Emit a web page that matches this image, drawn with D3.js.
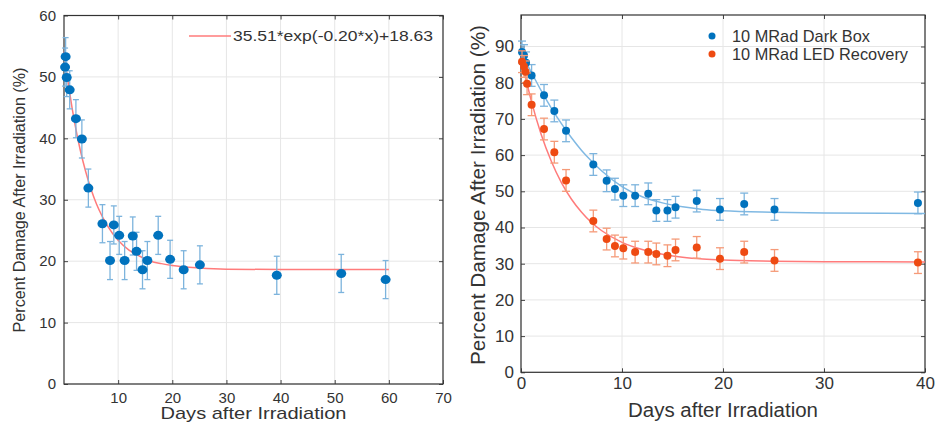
<!DOCTYPE html>
<html>
<head>
<meta charset="utf-8">
<script src="https://d3js.org/d3.v7.min.js"></script>
<style>
  body { margin: 0; background: #fff; }
  svg text { font-family: "Liberation Sans", Arial, Helvetica, sans-serif; fill: #333; }
</style>
</head>
<body>
<svg width="935" height="425"></svg>
<script>
// left panel: single sample, days vs percent damage
var leftDays = [0.3, 0.2, 0.5, 1.05, 2.2, 3.3, 4.5, 7.1, 8.5, 9.2, 10.2, 11.2, 12.7, 13.4, 14.5, 15.4, 17.4, 19.6, 22.1, 25.1, 39.3, 51.2, 59.4];
var leftDamage = [53.3, 51.6, 49.9, 47.9, 43.2, 39.9, 31.9, 26.1, 20.1, 25.9, 24.2, 20.1, 24.1, 21.6, 18.6, 20.1, 24.2, 20.3, 18.6, 19.4, 17.7, 18.0, 17.0];
var leftErr = 3.1;
// fitted curve
var leftFitX = [0, 1, 2, 3, 4, 5, 6, 7, 8, 10, 12, 14, 16, 18, 20, 25, 30, 40, 60];
var leftFitY = [54.1, 47.7, 42.4, 38.1, 34.6, 31.7, 29.3, 27.4, 25.8, 23.4, 21.8, 20.8, 20.0, 19.6, 19.3, 18.9, 18.7, 18.63, 18.63];
var leftLegend = "35.51*exp(-0.20*x)+18.63";

// right panel: dark box vs LED recovery
var darkDays = [0.1, 0.3, 0.5, 1.05, 2.28, 3.3, 4.46, 7.16, 8.48, 9.3, 10.13, 11.3, 12.6, 13.4, 14.5, 15.3, 17.4, 19.7, 22.1, 25.1, 39.3];
var darkDamage = [88.5, 87.5, 85.5, 82.0, 76.5, 72.2, 66.7, 57.4, 52.9, 50.6, 48.8, 48.8, 49.3, 44.7, 44.7, 45.6, 47.3, 45.0, 46.5, 45.0, 46.8];
var ledDays = [0.1, 0.3, 0.45, 0.6, 1.05, 2.28, 3.3, 4.46, 7.16, 8.48, 9.3, 10.13, 11.3, 12.6, 13.4, 14.5, 15.3, 17.4, 19.7, 22.1, 25.1, 39.3];
var ledDamage = [85.8, 84.5, 83.0, 79.7, 73.9, 67.2, 60.8, 53.0, 41.8, 36.8, 34.9, 34.3, 33.2, 33.2, 32.7, 32.2, 33.8, 34.5, 31.4, 33.2, 30.9, 30.3];
var rightErr = 3.0;
var darkFitX = [0, 1, 2, 3, 4, 5, 6, 7, 8, 10, 12, 14, 16, 18, 20, 25, 30, 40];
var darkFitY = [88, 83, 77.8, 73, 68.7, 64.8, 61.3, 58.3, 55.6, 51.3, 48.5, 46.8, 45.7, 45.0, 44.6, 44.2, 44.0, 43.9];
var ledFitX = [0, 1, 2, 3, 4, 5, 6, 7, 8, 10, 12, 14, 16, 18, 20, 25, 30, 40];
var ledFitY = [87, 75.2, 65.7, 58.3, 52.4, 47.8, 44.2, 41.3, 39.1, 35.9, 33.9, 32.6, 31.8, 31.3, 31.0, 30.7, 30.55, 30.5];
var rightLegend = ["10 MRad Dark Box", "10 MRad LED Recovery"];

var leftXTicks = [10, 20, 30, 40, 50, 60, 70];
var leftYTicks = [0, 10, 20, 30, 40, 50, 60];
var rightXTicks = [0, 10, 20, 30, 40];
var rightYTicks = [0, 10, 20, 30, 40, 50, 60, 70, 80, 90];

var blue = "#0072bd", blueLight = "#7db4dd", blueFit = "#80b9e3";
var red = "#ee4a12", redLight = "#f59a78", redFit = "#ff7b7b";

var svg = d3.select("svg");

function panel(o) {
  var g = svg.append("g");
  var x = d3.scaleLinear().domain(o.xDomain).range([o.left, o.right]);
  var y = d3.scaleLinear().domain(o.yDomain).range([o.bottom, o.top]);

  // grid
  g.selectAll(".gx").data(o.xTicks).enter().append("line")
    .attr("x1", d => x(d)).attr("x2", d => x(d))
    .attr("y1", o.top).attr("y2", o.bottom)
    .attr("stroke", "#e6e6e6").attr("stroke-width", 1);
  g.selectAll(".gy").data(o.yTicks).enter().append("line")
    .attr("x1", o.left).attr("x2", o.right)
    .attr("y1", d => y(d)).attr("y2", d => y(d))
    .attr("stroke", "#e6e6e6").attr("stroke-width", 1);

  // axes with inward ticks
  g.append("g").attr("transform", "translate(0," + o.bottom + ")")
    .call(d3.axisBottom(x).tickValues(o.xTicks).tickSizeInner(-4).tickSizeOuter(0).tickPadding(o.xPad))
    .call(a => a.selectAll("text").attr("font-size", o.tickFont).attr("fill", "#333"));
  g.append("g").attr("transform", "translate(" + o.left + ",0)")
    .call(d3.axisLeft(y).tickValues(o.yTicks).tickSizeInner(-4).tickSizeOuter(0).tickPadding(o.yPad))
    .call(a => a.selectAll("text").attr("font-size", o.tickFont).attr("fill", "#333"));
  g.append("g").attr("transform", "translate(0," + o.top + ")")
    .call(d3.axisTop(x).tickValues(o.xTicks).tickSizeInner(-4).tickSizeOuter(0).tickFormat(""));
  g.append("g").attr("transform", "translate(" + o.right + ",0)")
    .call(d3.axisRight(y).tickValues(o.yTicks).tickSizeInner(-4).tickSizeOuter(0).tickFormat(""));
  g.selectAll(".domain").remove();
  g.selectAll(".tick line").attr("stroke", "#444");
  g.append("rect").attr("x", o.left).attr("y", o.top)
    .attr("width", o.right - o.left).attr("height", o.bottom - o.top)
    .attr("fill", "none").attr("stroke", "#333").attr("stroke-width", 1.2);

  // fit curves
  o.fits.forEach(function(f) {
    var pts = f.xs.map((v, i) => [v, f.ys[i]]);
    g.append("path").datum(pts)
      .attr("d", d3.line().x(d => x(d[0])).y(d => y(d[1])).curve(d3.curveMonotoneX))
      .attr("fill", "none").attr("stroke", f.color).attr("stroke-width", 1.5);
  });

  // error bars + points
  o.series.forEach(function(s) {
    var pts = s.xs.map((v, i) => [v, s.ys[i]]);
    var eb = g.append("g");
    pts.forEach(function(d) {
      var cx = x(d[0]), y1 = y(d[1] + s.err), y2 = y(d[1] - s.err);
      eb.append("line").attr("x1", cx).attr("x2", cx).attr("y1", y1).attr("y2", y2);
      eb.append("line").attr("x1", cx - o.cap).attr("x2", cx + o.cap).attr("y1", y1).attr("y2", y1);
      eb.append("line").attr("x1", cx - o.cap).attr("x2", cx + o.cap).attr("y1", y2).attr("y2", y2);
    });
    eb.selectAll("line").attr("stroke", s.light).attr("stroke-width", 1.3);
    g.selectAll(null).data(pts).enter().append("ellipse")
      .attr("cx", d => x(d[0])).attr("cy", d => y(d[1]))
      .attr("rx", o.rx).attr("ry", o.ry).attr("fill", s.color);
  });

  // axis labels
  g.append("text").attr("x", (o.left + o.right) / 2).attr("y", o.xLabelY)
    .attr("text-anchor", "middle").attr("font-size", o.labelFont)
    .attr("textLength", o.xLabelLen).attr("lengthAdjust", "spacingAndGlyphs")
    .text("Days after Irradiation");
  g.append("text").attr("transform", "translate(" + o.yLabelX + "," + o.yLabelY + ") rotate(-90)")
    .attr("text-anchor", "middle").attr("font-size", o.yLabelFont)
    .attr("textLength", o.yLabelLen).attr("lengthAdjust", "spacingAndGlyphs")
    .text("Percent Damage After Irradiation (%)");
  return { g: g, x: x, y: y };
}

var L = panel({
  left: 64, right: 443, top: 15.5, bottom: 384,
  xDomain: [0, 70], yDomain: [0, 60],
  xTicks: leftXTicks, yTicks: leftYTicks,
  tickFont: 15, xPad: 8, yPad: 8, cap: 3, rx: 5, ry: 4.5,
  fits: [{ xs: leftFitX, ys: leftFitY, color: redFit }],
  series: [{ xs: leftDays, ys: leftDamage, err: leftErr, color: blue, light: blueLight }],
  labelFont: 17, xLabelY: 419, xLabelLen: 186,
  yLabelX: 25, yLabelY: 200, yLabelFont: 16, yLabelLen: 265
});

// left legend
L.g.append("line").attr("x1", 189).attr("x2", 231).attr("y1", 36).attr("y2", 36)
  .attr("stroke", redFit).attr("stroke-width", 1.5);
L.g.append("text").attr("x", 233).attr("y", 41).attr("font-size", 15)
  .attr("textLength", 200).attr("lengthAdjust", "spacingAndGlyphs").text(leftLegend);

var R = panel({
  left: 521, right: 925, top: 15, bottom: 372.3,
  xDomain: [0, 40], yDomain: [0, 98.7],
  xTicks: rightXTicks, yTicks: rightYTicks,
  tickFont: 17, xPad: 5, yPad: 7, cap: 4, rx: 4, ry: 4,
  fits: [{ xs: darkFitX, ys: darkFitY, color: blueFit }, { xs: ledFitX, ys: ledFitY, color: redFit }],
  series: [
    { xs: darkDays, ys: darkDamage, err: rightErr, color: blue, light: blueLight },
    { xs: ledDays, ys: ledDamage, err: rightErr, color: red, light: redLight }
  ],
  labelFont: 20, xLabelY: 417, xLabelLen: 190,
  yLabelX: 485, yLabelY: 195, yLabelFont: 20, yLabelLen: 340
});

// right legend
[blue, red].forEach(function(c, i) {
  R.g.append("circle").attr("cx", 712).attr("cy", 36 + i * 18).attr("r", 3.5).attr("fill", c);
  R.g.append("text").attr("x", 732).attr("y", 42 + i * 18).attr("font-size", 17)
    .attr("textLength", i === 0 ? 138 : 176).attr("lengthAdjust", "spacingAndGlyphs")
    .text(rightLegend[i]);
});
</script>
</body>
</html>
